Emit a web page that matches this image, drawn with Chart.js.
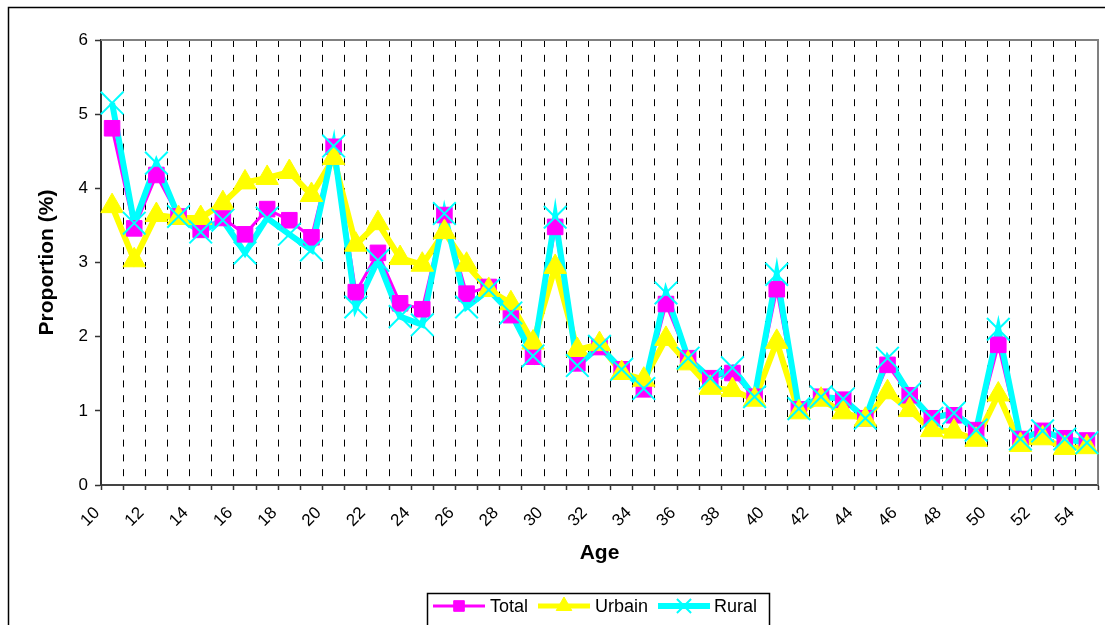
<!DOCTYPE html>
<html>
<head>
<meta charset="utf-8">
<script src="https://cdn.jsdelivr.net/npm/chart.js@4"></script>
<style>
html,body{margin:0;padding:0;background:#fff;}
#wrap{position:relative;width:1105px;height:625px;overflow:hidden;}
canvas{display:block;}
</style>
</head>
<body>
<div id="wrap"><canvas id="c" width="1105" height="625"></canvas></div>
<script>
const ages = ['10','11','12','13','14','15','16','17','18','19','20','21','22','23','24','25','26','27','28','29','30','31','32','33','34','35','36','37','38','39','40','41','42','43','44','45','46','47','48','49','50','51','52','53','54'];
const total  = [4.81,3.46,4.18,3.62,3.44,3.60,3.38,3.72,3.57,3.34,4.56,2.60,3.13,2.45,2.37,3.64,2.58,2.67,2.29,1.73,3.48,1.64,1.86,1.56,1.29,2.44,1.71,1.44,1.51,1.19,2.64,1.02,1.19,1.15,0.90,1.62,1.21,0.90,0.94,0.74,1.89,0.62,0.73,0.63,0.60];
const urbain = [3.76,3.03,3.64,3.60,3.60,3.80,4.08,4.14,4.22,3.91,4.41,3.24,3.53,3.06,2.97,3.41,2.97,2.63,2.45,1.92,2.94,1.82,1.90,1.51,1.42,1.97,1.64,1.31,1.28,1.15,1.93,0.98,1.15,0.98,0.88,1.25,1.01,0.74,0.72,0.61,1.22,0.54,0.63,0.50,0.51];
const rural  = [5.15,3.53,4.34,3.62,3.41,3.57,3.13,3.60,3.38,3.17,4.57,2.40,3.03,2.27,2.16,3.66,2.40,2.63,2.32,1.74,3.61,1.61,1.87,1.56,1.30,2.59,1.71,1.44,1.58,1.19,2.84,1.03,1.19,1.16,0.90,1.71,1.23,0.90,0.97,0.74,2.10,0.62,0.73,0.62,0.57];
const seriesNames = ['Total','Urbain','Rural'];
const yTicks = [0,1,2,3,4,5,6];

const FONT = "'Liberation Sans', Arial, sans-serif";
const MAG = '#FF00FF', YEL = '#FFFF00', CYA = '#00FFFF';

const framePlugin = {
  id: 'frame',
  beforeDraw(chart) {
    const ctx = chart.ctx;
    ctx.save();
    ctx.fillStyle = '#fff';
    ctx.fillRect(0, 0, chart.width, chart.height);
    ctx.strokeStyle = '#000';
    ctx.lineWidth = 1.5;
    ctx.beginPath();
    ctx.moveTo(8.5, 640);
    ctx.lineTo(8.5, 7.5);
    ctx.lineTo(1120, 7.5);
    ctx.stroke();
    ctx.restore();
  },
  beforeDatasetsDraw(chart) {
    const ctx = chart.ctx, a = chart.chartArea;
    ctx.save();
    ctx.strokeStyle = '#808080';
    ctx.lineWidth = 2;
    ctx.beginPath();
    ctx.moveTo(a.left, a.top);
    ctx.lineTo(a.right, a.top);
    ctx.lineTo(a.right, a.bottom);
    ctx.stroke();
    ctx.restore();
  },
  afterDraw(chart) {
    const ctx = chart.ctx;
    ctx.save();
    ctx.strokeStyle = '#000';
    ctx.lineWidth = 1.5;
    ctx.strokeRect(427.5, 593.5, 342, 45);
    const cy = 606;
    const items = [
      {name: seriesNames[0], color: MAG, lw: 3, x0: 433, x1: 485, tx: 490, style: 'rect', r: 7.5, bw: 1},
      {name: seriesNames[1], color: YEL, lw: 5, x0: 538, x1: 590, tx: 595, style: 'triangle', r: 9, bw: 1},
      {name: seriesNames[2], color: CYA, lw: 6, x0: 658, x1: 710, tx: 714, style: 'crossRot', r: 10, bw: 2}
    ];
    items.forEach(it => {
      ctx.strokeStyle = it.color;
      ctx.lineWidth = it.lw;
      ctx.beginPath();
      ctx.moveTo(it.x0, cy);
      ctx.lineTo(it.x1, cy);
      ctx.stroke();
      ctx.fillStyle = it.color;
      ctx.strokeStyle = it.color;
      ctx.lineWidth = it.bw;
      Chart.helpers.drawPoint(ctx, {pointStyle: it.style, radius: it.r, rotation: 0, borderWidth: it.bw}, (it.x0 + it.x1) / 2, cy);
      ctx.fillStyle = '#000';
      ctx.font = '18px ' + FONT;
      ctx.textAlign = 'left';
      ctx.textBaseline = 'middle';
      ctx.fillText(it.name, it.tx, cy + 1);
    });
    ctx.restore();
  }
};

function lineDs(label, data, color, width, order) {
  return {label, data, order, borderColor: color, backgroundColor: color, borderWidth: width,
          pointRadius: 0, pointHoverRadius: 0, tension: 0, fill: false};
}
function markDs(label, data, color, style, radius, bw, order) {
  return {label, data, order, showLine: false, borderColor: color, backgroundColor: color,
          pointStyle: style, pointRadius: radius, pointHoverRadius: radius,
          pointBackgroundColor: color, pointBorderColor: color, pointBorderWidth: bw, fill: false};
}

new Chart(document.getElementById('c'), {
  type: 'line',
  data: {
    labels: ages,
    datasets: [
      lineDs(seriesNames[0], total, MAG, 3, 5),
      lineDs(seriesNames[1], urbain, YEL, 6, 4),
      lineDs(seriesNames[2], rural, CYA, 6, 3),
      markDs(seriesNames[0], total, MAG, 'rect', 11, 1, 2),
      markDs(seriesNames[1], urbain, YEL, 'triangle', 13, 1, 1),
      markDs(seriesNames[2], rural, CYA, 'crossRot', 16, 2, 0)
    ]
  },
  options: {
    responsive: false,
    animation: false,
    devicePixelRatio: 1,
    layout: {autoPadding: false, padding: {left: 0, top: 40, right: 7, bottom: 0}},
    plugins: {legend: {display: false}, tooltip: {enabled: false}},
    scales: {
      x: {
        offset: true,
        grid: {offset: true, color: '#000', lineWidth: 1, drawOnChartArea: true, drawTicks: true, tickLength: 5, tickColor: '#333', tickWidth: 1.5, tickBorderDash: []},
        border: {display: true, color: '#444', width: 2, dash: [7, 7.8]},
        ticks: {
          autoSkip: false, maxRotation: 45, minRotation: 45, labelOffset: -15, padding: 13,
          color: '#000', font: {family: FONT, size: 17},
          callback: (v, i) => (i % 2 === 0 ? ages[i] : '')
        },
        title: {display: true, text: 'Age', color: '#000', font: {family: FONT, size: 21, weight: 'bold'}, padding: {top: 0, bottom: 59}},
        afterFit(s) { s.height = 140; s.paddingLeft = 0; s.paddingRight = 0; }
      },
      y: {
        min: 0, max: 6,
        afterBuildTicks(s) { s.ticks = yTicks.map(v => ({value: v})); },
        grid: {drawOnChartArea: false, drawTicks: true, tickLength: 6, color: '#333', tickWidth: 1.5},
        border: {display: true, color: '#333', width: 2},
        ticks: {color: '#000', font: {family: FONT, size: 17}, padding: 7},
        title: {display: true, text: 'Proportion (%)', color: '#000', font: {family: FONT, size: 21, weight: 'bold'}, padding: {top: 35, bottom: 0}},
        afterFit(s) { s.width = 101; s.paddingTop = 0; s.paddingBottom = 0; }
      }
    }
  },
  plugins: [framePlugin]
});
</script>
</body>
</html>
